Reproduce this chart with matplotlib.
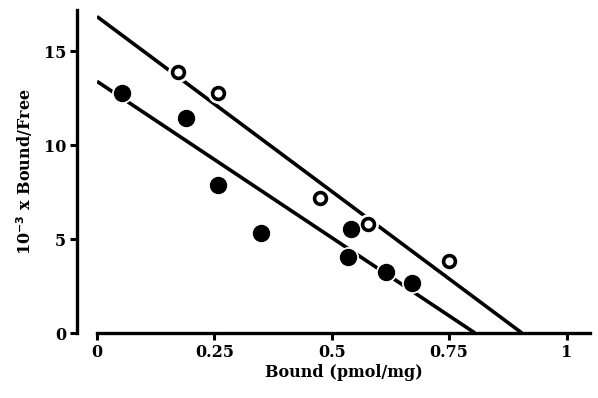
import matplotlib
matplotlib.use("Agg")
import matplotlib.pyplot as plt

# Data (Scatchard plot)
open_x = [0.172, 0.257, 0.474, 0.577, 0.749]
open_y = [13.9, 12.8, 7.2, 5.8, 3.85]
filled_x = [0.053, 0.189, 0.257, 0.350, 0.542, 0.535, 0.615, 0.670]
filled_y = [12.8, 11.45, 7.9, 5.3, 5.55, 4.05, 3.25, 2.65]
upper_line_x = [0.0, 0.905]
upper_line_y = [16.85, 0.0]
lower_line_x = [0.0, 0.805]
lower_line_y = [13.4, 0.0]
x_ticks = [0, 0.25, 0.5, 0.75, 1]
x_ticklabels = ["0", "0.25", "0.5", "0.75", "1"]
y_ticks = [0, 5, 10, 15]
y_ticklabels = ["0", "5", "10", "15"]

plt.rcParams['font.family'] = ['DejaVu Serif']
plt.rcParams['font.weight'] = 'bold'

fig = plt.figure(figsize=(5.98, 3.98), dpi=100)
ax = fig.add_axes([0.1622, 0.1633, 0.9866 - 0.1622, 0.9749 - 0.1633])

ax.plot(upper_line_x, upper_line_y, color='black', lw=2.6, solid_capstyle='butt', zorder=1)
ax.plot(lower_line_x, lower_line_y, color='black', lw=2.6, solid_capstyle='butt', zorder=1)

# white halos to mimic the line breaks around the symbols
ax.plot(open_x, open_y, 'o', ms=14, color='white', mec='white', zorder=2)
ax.plot(filled_x, filled_y, 'o', ms=14, color='white', mec='white', zorder=2)
ax.plot(filled_x, filled_y, 'o', ms=11.5, color='black', mec='black', zorder=3)
ax.plot(open_x, open_y, 'o', ms=8.5, mfc='white', mec='black', mew=2.6, zorder=4)

ax.set_xlim(0, 1.05)
ax.set_ylim(0, 17.2)
for s in ['top', 'right']:
    ax.spines[s].set_visible(False)
ax.spines['left'].set_position(('outward', 14.4))
ax.spines['left'].set_linewidth(2.4)
ax.spines['bottom'].set_linewidth(2.4)

ax.set_xticks(x_ticks)
ax.set_xticklabels(x_ticklabels, fontsize=11.5, fontweight='bold')
ax.set_yticks(y_ticks)
ax.set_yticklabels(y_ticklabels, fontsize=11.5, fontweight='bold')
ax.tick_params(axis='both', width=2.2, length=5, direction='out', pad=3)

ax.set_xlabel("Bound (pmol/mg)", fontsize=11.5, fontweight='bold', labelpad=2)
ax.set_ylabel(r"10$^{\mathbf{-3}}$ x Bound/Free", fontsize=11.5, fontweight='bold', labelpad=6)

fig.savefig("out.png", dpi=100)
